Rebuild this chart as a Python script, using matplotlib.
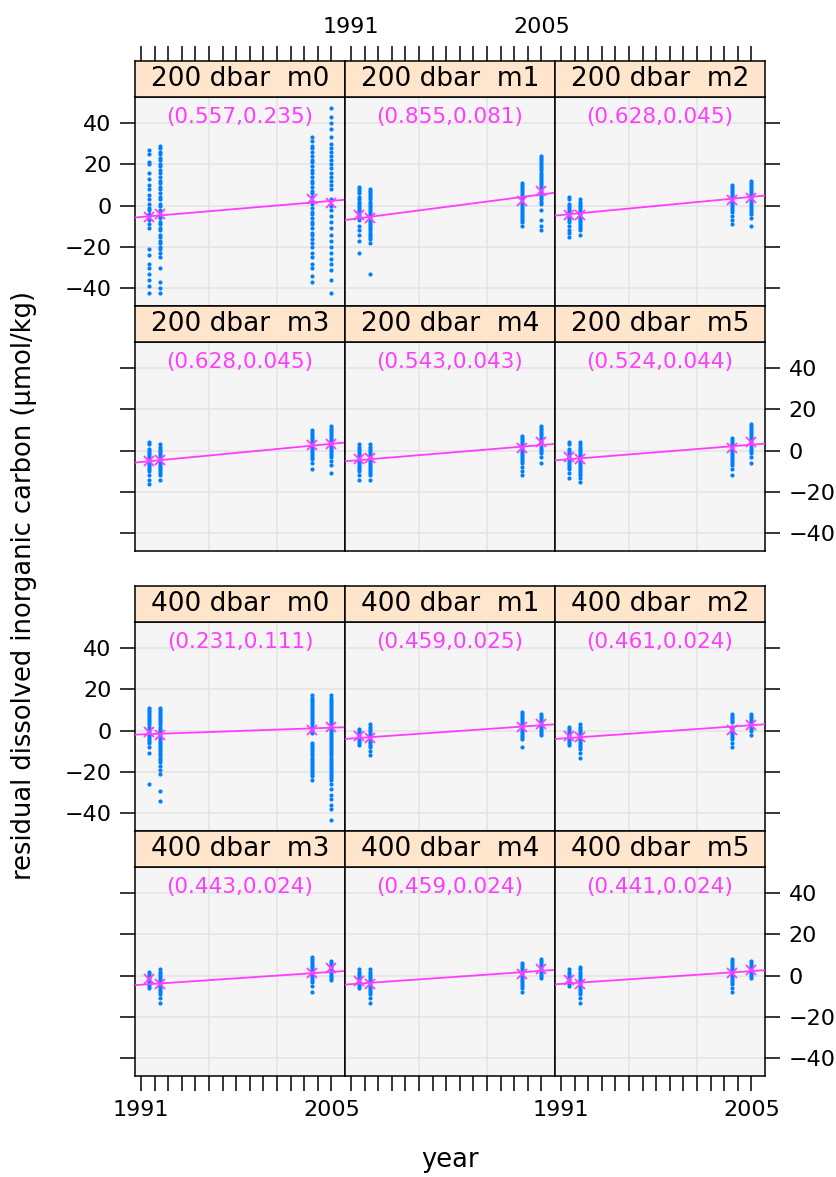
import matplotlib.pyplot as plt

plt.rcParams['font.family'] = ['DejaVu Sans']

# axis values
years = list(range(1991, 2006))
year_labels = ['1991'] + [''] * 13 + ['2005']
grid_years = [1996, 2001]
y_ticks = [-40, -20, 0, 20, 40]
y_tick_labels = ['\u221240', '\u221220', '0', '20', '40']
col_years = [1991.6, 1992.4, 2003.55, 2004.95]   # the four cruise dates

depths = ['200 dbar', '400 dbar']
models = ['m0', 'm1', 'm2', 'm3', 'm4', 'm5']

# (slope, se) printed in each panel
slope_200 = [0.557, 0.855, 0.628, 0.628, 0.543, 0.524]
se_200 = [0.235, 0.081, 0.045, 0.045, 0.043, 0.044]
slope_400 = [0.231, 0.459, 0.461, 0.443, 0.459, 0.441]
se_400 = [0.111, 0.025, 0.024, 0.024, 0.024, 0.024]

# fitted line value at 1998
fit_200 = [-1.6, -0.6, -0.15, -1.1, -1.1, -0.8]
fit_400 = [-0.2, -0.6, -0.6, -1.3, -0.9, -0.9]

# mean residual per cruise
means_200 = [[-5.7, -3.9, 3.4, 1.1], [-4.3, -5.9, 2.1, 6.9], [-4.3, -4.3, 2.7, 3.7],
             [-4.9, -4.4, 2.6, 3.3], [-3.9, -3.6, 1.3, 4.3], [-3.3, -3.9, 1.3, 4.3]]
means_400 = [[-0.8, -2.0, 0.2, 1.6], [-2.8, -3.6, 1.6, 3.3], [-2.8, -3.3, 0.5, 2.6],
             [-1.8, -3.8, 1.5, 3.6], [-2.6, -3.8, 0.8, 3.0], [-2.1, -3.8, 1.5, 2.5]]

# residuals, one list per cruise
r200_m0 = [[27, 25, 21, 20, 16, 13, 10, 8, 5, 3, 1, -1, -2, -4, -5, -7, -9, -11, -21, -24, -28, -30, -33, -36, -39, -42],
           [29, 28, 26, 25, 23, 22, 20, 19, 17, 16, 14, 12, 11, 9, 8, 6, 4, 3, 1, 0, -2, -3, -5, -6, -8, -9, -11,
            -12, -14, -15, -17, -18, -20, -21, -23, -25, -30, -37, -40, -42],
           [33, 31, 29, 28, 26, 24, 22, 21, 19, 17, 16, 14, 12, 11, 9, 7, 6, 4, 2, 1, -1, -3, -4, -6, -8, -9, -11,
            -13, -14, -16, -18, -20, -23, -25, -28, -30, -34, -37],
           [47, 43, 40, 37, 33, 30, 28, 26, 24, 22, 20, 18, 16, 14, 12, 10, 8, 3, 0, -2, -5, -8, -11, -14, -17, -20,
            -23, -26, -28, -31, -36, -42]]
r200_m1 = [[9, 8, 7, 6, 4, 3, 2, 1, 0, -1, -2, -3, -4, -5, -6, -7, -10, -12, -14, -17, -23],
           [8, 7, 6, 5, 4, 3, 2, 1, 0, -1, -2, -3, -4, -5, -6, -7, -8, -9, -10, -11, -12, -13, -14, -15, -16, -18, -33],
           [11, 10, 9, 8, 7, 6, 5, 4, 3, 2, 1, 0, -1, -2, -3, -4, -5, -6, -7, -8, -10],
           [24, 23, 22, 21, 20, 19, 18, 17, 16, 15, 14, 13, 12, 11, 10, 9, 8, 7, 6, 5, 4, 3, 2, 1, -2, -7, -10, -12]]
r200_m2 = [[4, 3, 1, 0, -1, -2, -3, -4, -5, -6, -7, -8, -10, -12, -13, -15],
           [3, 2, 1, 0, -1, -2, -3, -4, -5, -6, -7, -8, -9, -10, -11, -12, -14],
           [10, 9, 8, 7, 6, 5, 4, 3, 2, 1, 0, -1, -2, -3, -5, -7, -9],
           [12, 11, 10, 9, 8, 7, 6, 5, 4, 3, 2, 1, 0, -1, -2, -3, -4, -6, -10]]
r200_m3 = [[4, 3, 1, 0, -1, -2, -3, -4, -5, -6, -7, -8, -9, -10, -12, -14, -16],
           [3, 2, 1, 0, -1, -2, -3, -4, -5, -6, -7, -8, -9, -10, -11, -12, -14],
           [10, 9, 8, 7, 6, 5, 4, 3, 2, 1, 0, -1, -2, -3, -4, -6, -9],
           [12, 11, 10, 9, 8, 7, 6, 5, 4, 3, 2, 1, 0, -1, -2, -3, -5, -7, -11]]
r200_m4 = [[3, 2, 1, 0, -1, -2, -3, -4, -5, -6, -7, -8, -9, -10, -12, -14],
           [3, 2, 1, 0, -1, -2, -3, -4, -5, -6, -7, -8, -9, -10, -11, -12, -14],
           [7, 6, 5, 4, 3, 2, 1, 0, -1, -2, -3, -4, -5, -6, -8, -10, -12],
           [12, 11, 10, 9, 8, 7, 6, 5, 4, 3, 2, 1, 0, -1, -3, -6]]
r200_m5 = [[4, 3, 1, 0, -1, -2, -3, -4, -5, -6, -7, -8, -9, -11, -13],
           [4, 3, 2, 1, 0, -1, -2, -3, -4, -5, -6, -7, -8, -9, -10, -11, -12, -13, -15],
           [6, 5, 4, 3, 2, 1, 0, -1, -2, -3, -4, -5, -6, -7, -9, -12],
           [13, 12, 11, 10, 9, 8, 7, 6, 5, 4, 3, 2, 1, 0, -1, -3, -6]]
r400_m0 = [[11, 10, 9, 8, 7, 6, 5, 4, 3, 2, 1, 0, -1, -2, -3, -4, -5, -6, -8, -11, -26],
           [11, 10, 9, 8, 7, 6, 5, 4, 3, 2, 1, 0, -1, -2, -3, -4, -5, -6, -7, -8, -9, -10, -11, -12, -13, -14, -15,
            -17, -19, -21, -29, -34],
           [17, 16, 15, 14, 13, 12, 11, 10, 9, 8, 7, 6, 5, 4, 3, 2, 1, 0, -1, -6, -7, -8, -9, -10, -11, -12, -13, -14,
            -15, -16, -17, -18, -19, -20, -21, -22, -24],
           [17, 16, 15, 14, 13, 12, 11, 10, 9, 8, 7, 6, 5, 4, 3, 2, 1, 0, -1, -2, -3, -4, -5, -6, -7, -8, -9, -10, -11,
            -12, -13, -14, -15, -16, -17, -18, -19, -20, -21, -22, -23, -24, -26, -28, -31, -33, -36, -38, -43]]
r400_m1 = [[1, 0, -1, -2, -3, -4, -5, -6, -7],
           [3, 2, 1, 0, -1, -2, -3, -4, -5, -6, -7, -8, -10, -12],
           [9, 8, 7, 6, 5, 4, 3, 2, 1, 0, -1, -2, -3, -4, -8],
           [8, 7, 6, 5, 4, 3, 2, 1, 0, -1, -2]]
r400_m2 = [[2, 1, 0, -1, -2, -3, -4, -5, -6, -7],
           [3, 2, 1, 0, -1, -2, -3, -4, -5, -6, -7, -8, -9, -11, -13],
           [8, 7, 6, 5, 4, 2, 1, 0, -1, -2, -3, -4, -6, -8],
           [8, 7, 6, 5, 4, 3, 2, 1, 0, -2]]
r400_m3 = [[2, 1, 0, -1, -2, -3, -4, -5, -6],
           [3, 2, 1, 0, -1, -2, -3, -4, -5, -6, -7, -8, -9, -11, -13],
           [9, 8, 7, 6, 5, 4, 3, 2, 1, 0, -1, -2, -3, -5, -8],
           [7, 6, 5, 4, 3, 2, 1, 0, -1, -2]]
r400_m4 = [[3, 2, 1, 0, -1, -2, -3, -4, -5, -6],
           [3, 2, 1, 0, -1, -2, -3, -4, -5, -6, -7, -8, -9, -11, -13],
           [6, 5, 4, 3, 2, 1, 0, -1, -2, -3, -4, -5, -6, -8],
           [8, 7, 6, 5, 4, 3, 2, 1, 0, -1]]
r400_m5 = [[3, 2, 1, 0, -1, -2, -3, -4, -5],
           [4, 3, 2, 1, 0, -1, -2, -3, -4, -5, -6, -7, -8, -9, -11, -13],
           [8, 7, 6, 5, 4, 3, 2, 1, 0, -1, -2, -3, -4, -6, -8],
           [7, 6, 5, 4, 3, 2, 1, 0, -1]]

resid = [[r200_m0, r200_m1, r200_m2, r200_m3, r200_m4, r200_m5],
         [r400_m0, r400_m1, r400_m2, r400_m3, r400_m4, r400_m5]]
slopes = [slope_200, slope_400]
ses = [se_200, se_400]
fits = [fit_200, fit_400]
means = [means_200, means_400]

W, H = 836, 1177
fig = plt.figure(figsize=(W / 100, H / 100), dpi=100)


def box(x0, y0, w, h):
    # pixel box (from top left) -> figure fraction
    return [x0 / W, 1 - (y0 + h) / H, w / W, h / H]


left0 = 135
pw = 210
ph = 209
sh = 36
strip_tops = [61, 306, 586, 831]
xlim = (1990.56, 2006.0)
ylim = (-48.5, 52.5)
magenta = '#ff3dff'
tick_kw = dict(direction='out', length=10.5, width=1.1, pad=6.5, labelsize=16)

for d in range(2):
    for k in range(6):
        row = 2 * d + k // 3
        col = k % 3
        x0 = left0 + col * pw

        ax = fig.add_axes(box(x0, strip_tops[row] + sh, pw, ph), facecolor='#f5f5f5')
        ax.set_xlim(*xlim)
        ax.set_ylim(*ylim)
        for gx in grid_years:
            ax.axvline(gx, color='#e4e4e4', lw=1.1, zorder=0)
        for gy in y_ticks:
            ax.axhline(gy, color='#e4e4e4', lw=1.1, zorder=0)

        for cy, vals in zip(col_years, resid[d][k]):
            ax.scatter([cy] * len(vals), vals, s=9, color='#0080ff', lw=0, zorder=2)

        s = slopes[d][k]
        ax.plot(xlim, [fits[d][k] + s * (x - 1998) for x in xlim], color=magenta, lw=1.3, zorder=3)
        ax.plot(col_years, means[d][k], 'x', color=magenta, ms=7, mew=1.3, zorder=4)
        ax.text(0.5, 43, '(%.3f,%.3f)' % (s, ses[d][k]), transform=ax.get_yaxis_transform(),
                ha='center', va='center', color=magenta, fontsize=15.5)

        ax.set_xticks(years)
        ax.set_xticklabels(year_labels if col != 1 else [''] * len(years))
        ax.tick_params(axis='x', top=False, bottom=(row == 3), labelbottom=(row == 3), **tick_kw)
        ax.set_yticks(y_ticks)
        ax.set_yticklabels(y_tick_labels)
        ax.tick_params(axis='y', left=(col == 0), right=(col == 2),
                       labelleft=(col == 0 and row in (0, 2)),
                       labelright=(col == 2 and row in (1, 3)), **tick_kw)
        for sp in ax.spines.values():
            sp.set_linewidth(1.1)

        # strip on top of the panel
        sax = fig.add_axes(box(x0, strip_tops[row], pw, sh), facecolor='#ffe5cc')
        sax.set_xlim(*xlim)
        sax.set_yticks([])
        if row == 0:
            sax.set_xticks(years)
            sax.set_xticklabels(year_labels if col == 1 else [''] * len(years))
            sax.tick_params(axis='x', bottom=False, labelbottom=False, top=True,
                            labeltop=(col == 1), **tick_kw)
        else:
            sax.set_xticks([])
        for sp in sax.spines.values():
            sp.set_linewidth(1.1)
        sax.text(0.5, 0.5, depths[d] + '  ' + models[k], transform=sax.transAxes,
                 ha='center', va='center', fontsize=19)

fig.text(450 / W, 1 - 1160 / H, 'year', ha='center', va='center', fontsize=18.5)
fig.text(24 / W, 1 - 585 / H, 'residual dissolved inorganic carbon (\u00b5mol/kg)',
         rotation=90, ha='center', va='center', fontsize=18.5)

fig.savefig('out.png', dpi=100)
